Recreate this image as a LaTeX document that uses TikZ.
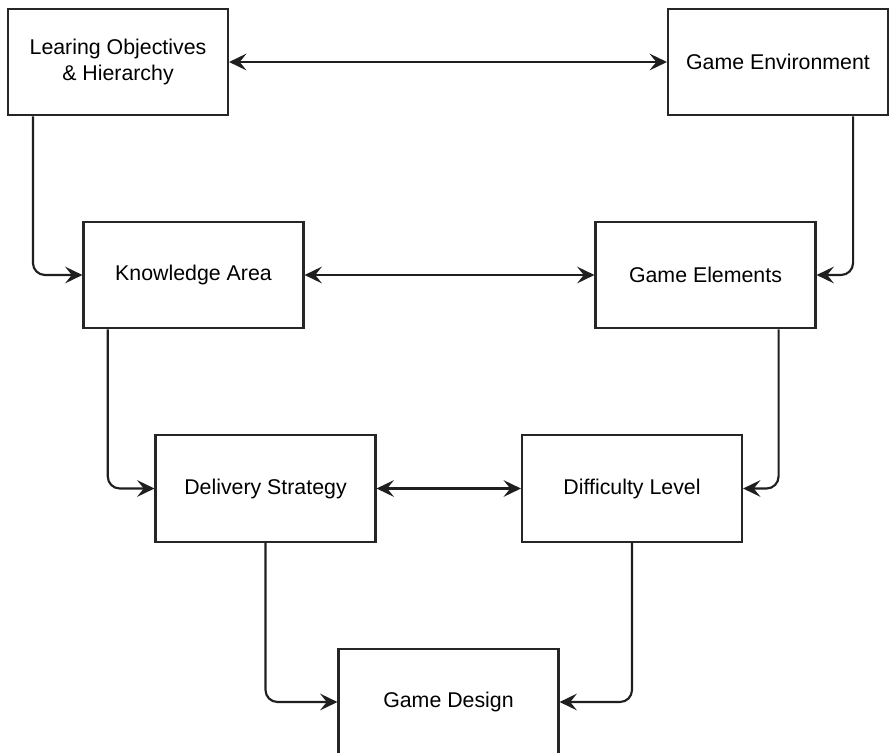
\documentclass[tikz,border=0pt]{standalone}
\usepackage{fontspec}
\setmainfont{Liberation Sans}
\usetikzlibrary{arrows.meta}

\tikzset{
  stage/.style={draw=black!85, line width=1.6pt, fill=white, minimum width=165pt,
    minimum height=80pt, align=center, font=\fontsize{16}{19.5}\selectfont, text=black},
  link/.style={draw=black!88, line width=1.6pt, -{Stealth[length=13pt,width=12.5pt,inset=5pt]},
    rounded corners=9pt},
  both/.style={link, {Stealth[length=13pt,width=12.5pt,inset=5pt]}-{Stealth[length=13pt,width=12.5pt,inset=5pt]}}
}

\begin{document}
\begin{tikzpicture}[x=0.75pt,y=-0.75pt]
  \clip (0,0) rectangle (889,753);
  \fill[white] (0,0) rectangle (889,753);

  \node[stage] (obj) at (118,62) {Learing Objectives\\\& Hierarchy};
  \node[stage] (env) at (778,62) {Game Environment};
  \node[stage] (area) at (193.5,275) {Knowledge Area};
  \node[stage] (elem) at (705.5,275) {Game Elements};
  \node[stage] (deliv) at (265.5,488.5) {Delivery Strategy};
  \node[stage] (diff) at (632,488.5) {Difficulty Level};
  \node[stage] (design) at (448.5,702) {Game Design};

  % horizontal links
  \draw[both] (obj) -- (env);
  \draw[both] (area) -- (elem);
  \draw[both] (deliv) -- (diff);

  % left side
  \draw[link] ([xshift=19.5pt]obj.south west) |- (area.west);
  \draw[link] ([xshift=19pt]area.south west) |- (deliv.west);
  \draw[link] (deliv.south) |- (design.west);

  % right side
  \draw[link] ([xshift=-27pt]env.south east) |- (elem.east);
  \draw[link] ([xshift=-28.5pt]elem.south east) |- (diff.east);
  \draw[link] (diff.south) |- (design.east);
\end{tikzpicture}
\end{document}
